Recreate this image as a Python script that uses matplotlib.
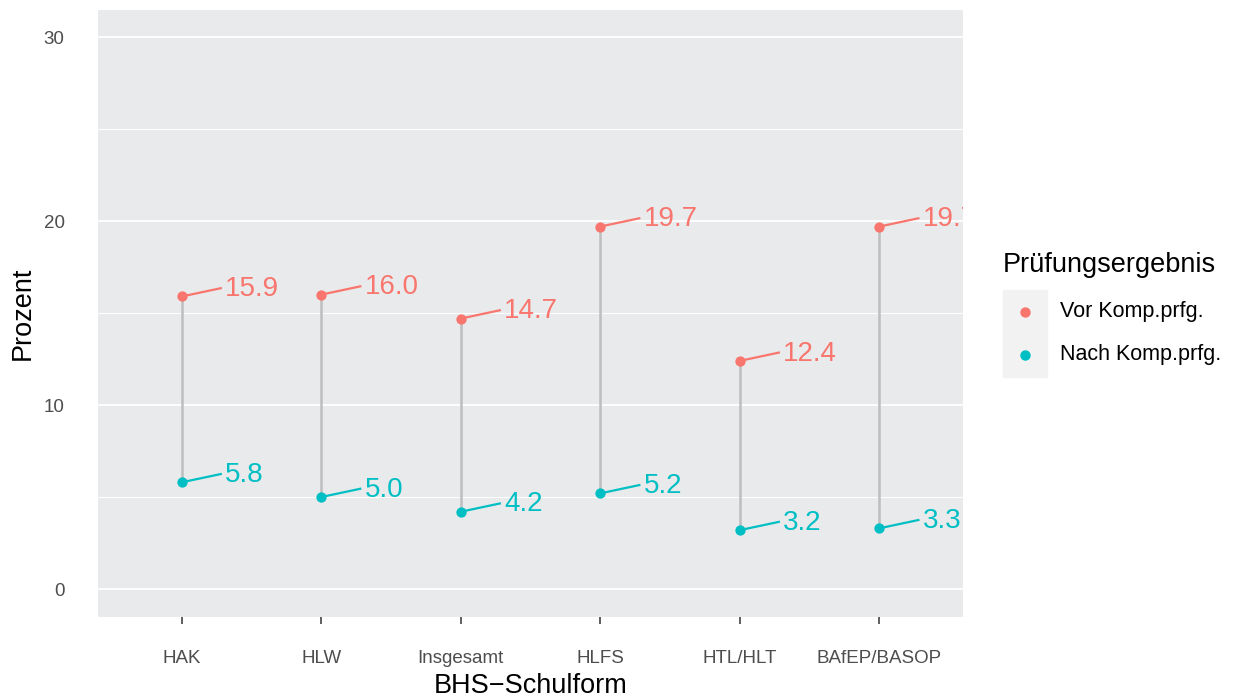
import matplotlib
matplotlib.use("Agg")
import matplotlib.pyplot as plt
from matplotlib.patches import Rectangle
from matplotlib.lines import Line2D
import numpy as np

plt.rcParams['font.family'] = ['Liberation Sans', 'DejaVu Sans']

# data
schulform = ["HAK", "HLW", "Insgesamt", "HLFS", "HTL/HLT", "BAfEP/BASOP"]
vor_komp = [15.9, 16.0, 14.7, 19.7, 12.4, 19.7]
nach_komp = [5.8, 5.0, 4.2, 5.2, 3.2, 3.3]
serien = ["Vor Komp.prfg.", "Nach Komp.prfg."]
farben = ["#F8766D", "#00BFC4"]

W, H = 1235, 697
fig = plt.figure(figsize=(W / 100, H / 100), dpi=100)
ax = fig.add_axes([98 / W, 1 - 617 / H, (963 - 98) / W, (617 - 10) / H])
ax.set_facecolor("#E9EAEC")
for s in ax.spines.values():
    s.set_visible(False)

x = np.arange(1, len(schulform) + 1)

# gridlines
ax.set_yticks([0, 10, 20, 30])
ax.set_yticks([5, 15, 25], minor=True)
ax.grid(axis="y", which="major", color="white", lw=1.3)
ax.grid(axis="y", which="minor", color="white", lw=0.7)
ax.set_axisbelow(True)

# gray connecting segments
ax.vlines(x, nach_komp, vor_komp, color="#BEBEBE", lw=1.8, zorder=2)

for vals, col in zip([vor_komp, nach_komp], farben):
    ax.scatter(x, vals, s=55, color=col, zorder=3, linewidths=0)
    for xi, v in zip(x, vals):
        ax.plot([xi, xi + 0.28], [v, v + 0.45], color=col, lw=1.6, zorder=3)
        ax.text(xi + 0.31, v + 0.4, f"{v:.1f}", color=col, fontsize=20,
                ha="left", va="center", clip_on=True, zorder=4)

ax.set_xlim(0.4, 6.6)
ax.set_ylim(-1.52, 31.47)
ax.set_xticks(x)
ax.set_xticklabels(schulform)
ax.tick_params(axis="x", length=5, width=1.1, color="#333333", pad=19,
               labelsize=13.5, labelcolor="#4D4D4D")
ax.tick_params(axis="y", which="both", length=0, pad=24,
               labelsize=13.5, labelcolor="#4D4D4D")
ax.set_xlabel("BHS\u2212Schulform", fontsize=19.5, labelpad=4)
ax.set_ylabel("Prozent", fontsize=19.5, labelpad=6)

# legend drawn by hand in ggplot style
fig.text(1003 / W, 1 - 265 / H, "Prüfungsergebnis", fontsize=19.5,
         ha="left", va="center")
fig.patches.append(Rectangle((1003 / W, 1 - 377 / H), 44 / W, 87 / H,
                             transform=fig.transFigure, color="#F2F2F2"))
for ly, lab, col in zip([312, 355], serien, farben):
    fig.lines.append(Line2D([1025 / W], [1 - ly / H], marker="o", ms=7.5,
                            color=col, mew=0, transform=fig.transFigure))
    fig.text(1060 / W, 1 - ly / H, lab, fontsize=15.5, ha="left", va="center")

fig.savefig("out.png", dpi=100)
